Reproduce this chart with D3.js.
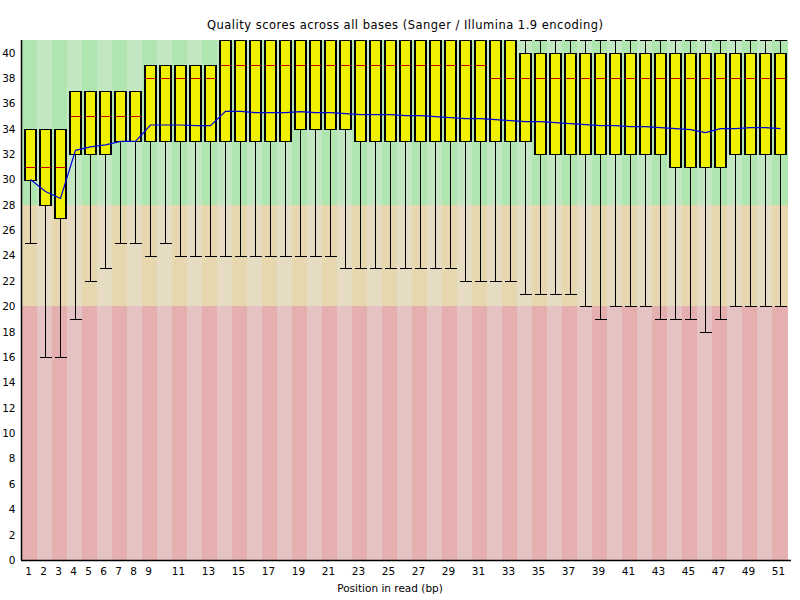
<!DOCTYPE html>
<html>
<head>
<meta charset="utf-8">
<script src="https://cdn.jsdelivr.net/npm/d3@7"></script>
<style>
  body { margin: 0; background: #fff; }
  svg { display: block; font-family: "DejaVu Sans", sans-serif; }
</style>
</head>
<body>
<svg id="chart" width="800" height="600"></svg>
<script>
const positions = d3.range(1, 52).map(String);
const xTickLabels = ["1","2","3","4","5","6","7","8","9","11","13","15","17","19","21","23","25","27","29","31","33","35","37","39","41","43","45","47","49","51"];
const yTickValues = d3.range(0, 41, 2);

const upperBox = [34,34,34,37,37,37,37,37,39,39,39,39,39,
  41,41,41,41,41,41,41,41,41,41,41,41,41,41,41,41,41,41,41,41,
  40,40,40,40,40,40,40,40,40,40,40,40,40,40,40,40,40,40];
const lowerBox = [30,28,27,32,32,32,33,33,33,33,33,33,33,33,33,33,33,33,34,34,34,34,
  33,33,33,33,33,33,33,33,33,33,33,33,
  32,32,32,32,32,32,32,32,32,31,31,31,31,32,32,32,32];
const medians = [31,31,31,35,35,35,35,35,38,38,38,38,38,
  39,39,39,39,39,39,39,39,39,39,39,39,39,39,39,39,39,39,
  38,38,38,38,38,38,38,38,38,38,38,38,38,38,38,38,38,38,38,38];
const lowerWhisker = [25,16,16,19,22,23,25,25,24,25,24,24,24,24,24,24,24,24,24,24,24,
  23,23,23,23,23,23,23,23,22,22,22,22,21,21,21,21,20,19,20,20,20,19,19,19,18,19,20,20,20,20];
const upperWhisker = [34,34,34,37,37,37,37,37,39,39,39,39,39,
  41,41,41,41,41,41,41,41,41,41,41,41,41,41,41,41,41,41,41,41,
  41,41,41,41,41,41,41,41,41,41,41,41,41,41,41,41,41,41];
const means = [30.0,29.05,28.5,32.3,32.57,32.73,33.0,33.0,34.3,34.3,34.3,34.25,34.25,
  35.38,35.38,35.28,35.28,35.28,35.36,35.28,35.28,35.2,35.12,35.12,35.12,35.04,35.04,34.96,34.88,34.8,34.8,34.72,34.64,
  34.57,34.57,34.49,34.41,34.33,34.25,34.25,34.17,34.17,34.09,34.01,33.93,33.7,34.01,34.01,34.09,34.09,34.01];

const qualityZones = [
  {from: 28, to: 41, light: "rgb(195,230,195)", dark: "rgb(175,230,175)"},
  {from: 20, to: 28, light: "rgb(230,220,195)", dark: "rgb(230,215,175)"},
  {from: 0, to: 20, light: "rgb(230,195,195)", dark: "rgb(230,175,175)"}
];

const data = positions.map((p, i) => ({
  pos: p, q1: lowerBox[i], q3: upperBox[i], med: medians[i],
  lo: lowerWhisker[i], hi: upperWhisker[i], mean: means[i], idx: i
}));

const svg = d3.select("#chart");
const mLeft = 22, mRight = 787, mTop = 40, mBottom = 560;

const x = d3.scaleBand().domain(positions).range([mLeft, mRight]).padding(0);
const y = d3.scaleLinear().domain([0, 41]).range([mBottom, mTop]);
const bw = x.bandwidth();
const cx = p => Math.round(x(p) + bw / 2) + 0.5;
const py = v => Math.round(y(v)) + 0.5;

// background bands
const bg = svg.append("g");
qualityZones.forEach(z => {
  bg.selectAll(null).data(positions).enter().append("rect")
    .attr("x", p => x(p))
    .attr("width", bw + 0.5)
    .attr("y", y(z.to))
    .attr("height", y(z.from) - y(z.to))
    .attr("fill", (p, i) => i % 2 === 0 ? z.dark : z.light)
    .attr("shape-rendering", "crispEdges");
});

// whiskers
const wg = svg.append("g").attr("stroke", "#000").attr("stroke-width", 1.5).attr("shape-rendering", "crispEdges");
wg.selectAll(".wl").data(data).enter().append("line")
  .attr("x1", d => cx(d.pos)).attr("x2", d => cx(d.pos))
  .attr("y1", d => py(d.q1)).attr("y2", d => py(d.lo));
wg.selectAll(".wc").data(data).enter().append("line")
  .attr("x1", d => cx(d.pos) - 6).attr("x2", d => cx(d.pos) + 6)
  .attr("y1", d => py(d.lo)).attr("y2", d => py(d.lo));
wg.selectAll(".wu").data(data.filter(d => d.hi > d.q3)).enter().append("line")
  .attr("x1", d => cx(d.pos)).attr("x2", d => cx(d.pos))
  .attr("y1", d => py(d.q3)).attr("y2", d => py(d.hi));
wg.selectAll(".wuc").data(data.filter(d => d.hi > d.q3)).enter().append("line")
  .attr("x1", d => cx(d.pos) - 6).attr("x2", d => cx(d.pos) + 6)
  .attr("y1", d => py(d.hi)).attr("y2", d => py(d.hi));

// boxes
svg.append("g").selectAll("rect").data(data).enter().append("rect")
  .attr("x", d => cx(d.pos) - 5.5)
  .attr("width", 11)
  .attr("y", d => py(d.q3))
  .attr("height", d => py(d.q1) - py(d.q3))
  .attr("fill", "rgb(240,240,0)")
  .attr("stroke", "#000")
  .attr("stroke-width", 1.5)
  .attr("shape-rendering", "crispEdges");

// medians
svg.append("g").selectAll("line").data(data).enter().append("line")
  .attr("x1", d => cx(d.pos) - 5).attr("x2", d => cx(d.pos) + 5)
  .attr("y1", d => py(d.med)).attr("y2", d => py(d.med))
  .attr("stroke", "rgb(200,0,0)").attr("stroke-width", 1)
  .attr("shape-rendering", "crispEdges");

// mean line
svg.append("path").datum(data)
  .attr("d", d3.line().x(d => cx(d.pos)).y(d => y(d.mean)))
  .attr("fill", "none").attr("stroke", "rgb(0,0,220)").attr("stroke-width", 1.2);

// axes
const yAxis = d3.axisLeft(y).tickValues(yTickValues).tickFormat(d3.format("d")).tickSize(0).tickPadding(6);
const yg = svg.append("g").attr("transform", `translate(${mLeft - 0.5},0)`).call(yAxis);
yg.select(".domain").attr("stroke", "#000").attr("stroke-width", 1.5).attr("d", `M0,${mTop}V${mBottom}`);
yg.selectAll("text").attr("font-size", "10.5px").attr("font-family", "DejaVu Sans").attr("fill", "#000");

const xAxis = d3.axisBottom(x).tickValues(xTickLabels).tickSize(0).tickPadding(7);
const xg = svg.append("g").attr("transform", `translate(0,${mBottom + 0.5})`).call(xAxis);
xg.select(".domain").attr("stroke", "#000").attr("stroke-width", 1.5).attr("d", `M${mLeft - 1},0H${mRight + 4}`);
xg.selectAll("text").attr("font-size", "10.5px").attr("font-family", "DejaVu Sans").attr("fill", "#000").attr("dx", "-1");

// titles
svg.append("text").attr("x", 405).attr("y", 29).attr("text-anchor", "middle")
  .attr("font-size", "11.5px").attr("fill", "#000")
  .attr("textLength", 396).attr("lengthAdjust", "spacing")
  .text("Quality scores across all bases (Sanger / Illumina 1.9 encoding)");
svg.append("text").attr("x", 390).attr("y", 592).attr("text-anchor", "middle")
  .attr("font-size", "10.5px").attr("fill", "#000")
  .text("Position in read (bp)");
</script>
</body>
</html>
